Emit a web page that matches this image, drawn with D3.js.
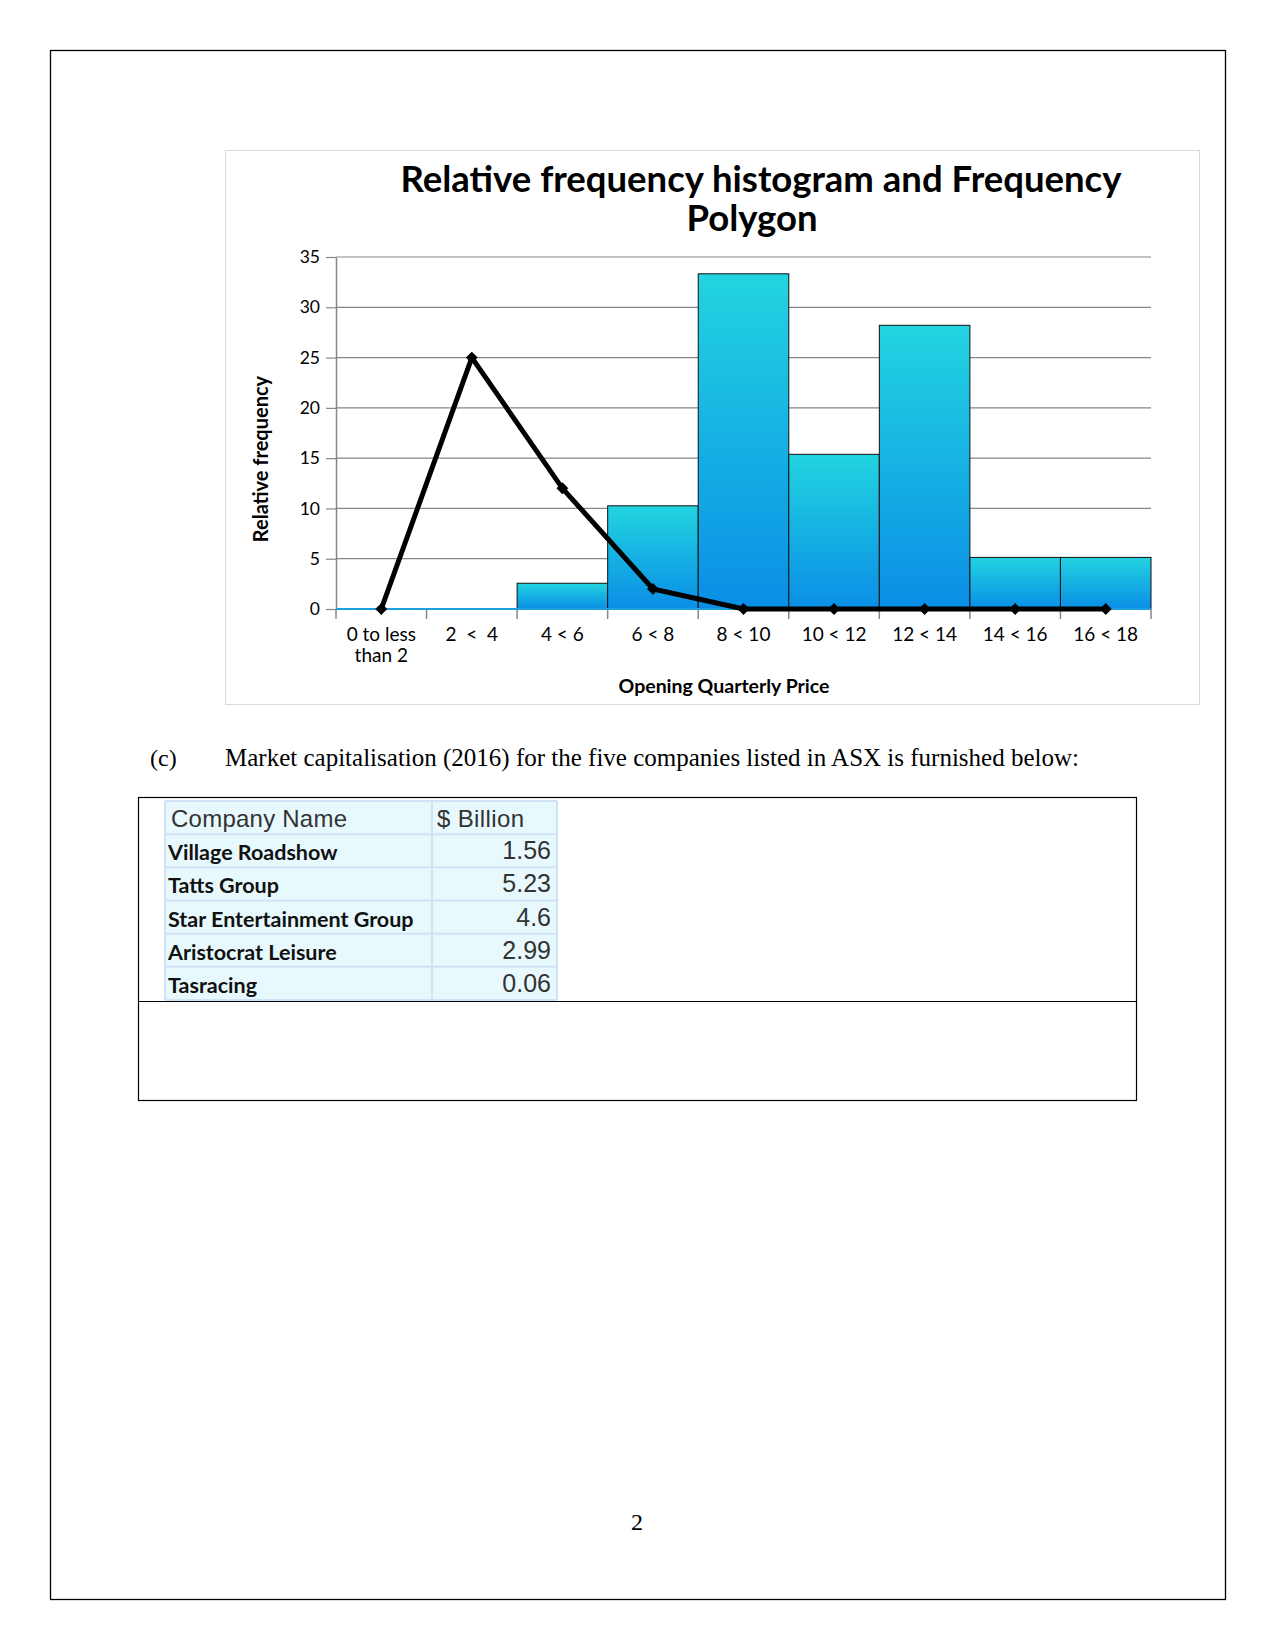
<!DOCTYPE html>
<html>
<head>
<meta charset="utf-8">
<script src="https://cdn.jsdelivr.net/npm/d3@7"></script>
<style>
  body { margin: 0; background: #fff; }
  svg { display: block; }
</style>
</head>
<body>
<div id="page"></div>
<script>
// histogram data (relative frequency, %)
const bins = ["0 to less|than 2", "2  <  4", "4 < 6", "6 < 8", "8 < 10", "10 < 12", "12 < 14", "14 < 16", "16 < 18"];
const relFreq = [0, 0, 2.56, 10.26, 33.33, 15.38, 28.21, 5.13, 5.13];
const polygon = [0, 25, 12, 2, 0, 0, 0, 0, 0];
const yTicks = [0, 5, 10, 15, 20, 25, 30, 35];

// table data
const companies = ["Village Roadshow", "Tatts Group", "Star Entertainment Group", "Aristocrat Leisure", "Tasracing"];
const billions = ["1.56", "5.23", "4.6", "2.99", "0.06"];

const svg = d3.select("#page").append("svg").attr("width", 1275).attr("height", 1650)

// page frame
svg.append("rect")
   .attr("x", 50.5).attr("y", 50.5).attr("width", 1175).attr("height", 1549)
   .attr("fill", "none").attr("stroke", "#000").attr("stroke-width", 1.3)

// chart frame
svg.append("rect")
   .attr("x", 225.5).attr("y", 150.5).attr("width", 974).attr("height", 554)
   .attr("fill", "#fff").attr("stroke", "#d9d9d9").attr("stroke-width", 1)

const margin = { left: 336, right: 1151, top: 257, bottom: 609 }

const x = d3.scaleBand().domain(bins).range([margin.left, margin.right]).padding(0)
const y = d3.scaleLinear().domain([0, 35]).range([margin.bottom, margin.top])

const defs = svg.append("defs")
const grad = defs.append("linearGradient").attr("id", "barGrad")
                 .attr("x1", 0).attr("y1", 0).attr("x2", 0).attr("y2", 1)
grad.append("stop").attr("offset", "0%").attr("stop-color", "#22d4e0")
grad.append("stop").attr("offset", "100%").attr("stop-color", "#0a8ee6")

// gridlines
svg.append("g")
   .selectAll("line")
   .data(yTicks.filter(d => d > 0))
   .enter()
   .append("line")
   .attr("x1", margin.left).attr("x2", margin.right)
   .attr("y1", d => y(d)).attr("y2", d => y(d))
   .attr("stroke", "#868686").attr("stroke-width", 1.2)

// bars
svg.append("g")
   .selectAll("rect")
   .data(bins)
   .enter()
   .append("rect")
   .attr("x", d => x(d))
   .attr("y", (d, i) => y(relFreq[i]))
   .attr("width", x.bandwidth())
   .attr("height", (d, i) => y(0) - y(relFreq[i]))
   .attr("fill", "url(#barGrad)")
   .attr("stroke", (d, i) => relFreq[i] > 0 ? "#111" : "none")
   .attr("stroke-width", 1)

// axes
const gy = svg.append("g")
              .attr("transform", `translate(${margin.left},0)`)
              .call(d3.axisLeft(y).tickValues(yTicks).tickSize(10).tickPadding(6).tickSizeOuter(0))
gy.select(".domain").attr("stroke", "#868686").attr("stroke-width", 1.5)
gy.selectAll(".tick line").attr("stroke", "#868686").attr("stroke-width", 1.2)
gy.selectAll("text").style("font-family", "Lato").style("font-size", "17.5px").attr("fill", "#000")

const gx = svg.append("g")
              .attr("transform", `translate(0,${margin.bottom})`)
gx.append("line")
  .attr("x1", margin.left).attr("x2", margin.right).attr("y1", 0).attr("y2", 0)
  .attr("stroke", "#1a9fe0").attr("stroke-width", 2)
gx.selectAll("line.tk")
  .data(bins.concat(["end"]))
  .enter()
  .append("line")
  .attr("class", "tk")
  .attr("x1", (d, i) => i < bins.length ? x(d) : margin.right)
  .attr("x2", (d, i) => i < bins.length ? x(d) : margin.right)
  .attr("y1", 0).attr("y2", 10)
  .attr("stroke", "#868686").attr("stroke-width", 1.5)

gx.selectAll("text.lbl")
  .data(bins)
  .enter()
  .append("text")
  .attr("class", "lbl")
  .attr("x", d => x(d) + x.bandwidth() / 2)
  .attr("y", 32)
  .attr("text-anchor", "middle")
  .style("font-family", "Lato").style("font-size", "19px")
  .each(function(d) {
      const lines = d.split("|")
      lines.forEach((l, j) => {
          d3.select(this).append("tspan")
            .attr("x", x(d) + x.bandwidth() / 2)
            .attr("dy", j === 0 ? 0 : 21)
            .attr("xml:space", "preserve")
            .style("white-space", "pre")
            .text(l)
      })
  })

// frequency polygon
const line = d3.line()
               .x((d, i) => x(bins[i]) + x.bandwidth() / 2)
               .y(d => y(d))

svg.append("path")
   .datum(polygon)
   .attr("d", line)
   .attr("fill", "none")
   .attr("stroke", "#000")
   .attr("stroke-width", 5)
   .attr("stroke-linejoin", "miter")

svg.append("g")
   .selectAll("path")
   .data(polygon)
   .enter()
   .append("path")
   .attr("d", d3.symbol().type(d3.symbolDiamond2).size(90))
   .attr("transform", (d, i) => `translate(${x(bins[i]) + x.bandwidth() / 2},${y(d)})`)
   .attr("fill", "#000")

// titles
const title = svg.append("text")
                 .attr("text-anchor", "middle")
                 .style("font-family", "Lato").style("font-weight", "bold").style("font-size", "36.5px")
title.append("tspan").attr("x", 761).attr("y", 192).text("Relative frequency histogram and Frequency")
title.append("tspan").attr("x", 752).attr("y", 231).text("Polygon")

svg.append("text")
   .attr("transform", "translate(268,459) rotate(-90)")
   .attr("text-anchor", "middle")
   .style("font-family", "Lato").style("font-weight", "bold").style("font-size", "20px")
   .text("Relative frequency")

svg.append("text")
   .attr("x", 724).attr("y", 693)
   .attr("text-anchor", "middle")
   .style("font-family", "Lato").style("font-weight", "bold").style("font-size", "19.5px")
   .text("Opening Quarterly Price")

// (c) paragraph
svg.append("text")
   .attr("x", 150).attr("y", 766)
   .style("font-family", "Liberation Serif").style("font-size", "24px")
   .text("(c)")
svg.append("text")
   .attr("x", 225).attr("y", 766)
   .style("font-family", "Liberation Serif").style("font-size", "25px")
   .attr("textLength", 854)
   .text("Market capitalisation (2016) for the five companies listed in ASX is furnished below:")

// answer box
svg.append("rect")
   .attr("x", 138.5).attr("y", 797.5).attr("width", 998).attr("height", 303)
   .attr("fill", "none").attr("stroke", "#000").attr("stroke-width", 1.2)
svg.append("line")
   .attr("x1", 138.5).attr("x2", 1136.5).attr("y1", 1001.5).attr("y2", 1001.5)
   .attr("stroke", "#000").attr("stroke-width", 1.2)

// table
const rowLabels = ["Company Name"].concat(companies)
const colX = d3.scaleOrdinal().domain(["name", "value"]).range([165, 432])
const rowY = d3.scaleBand().domain(d3.range(rowLabels.length)).range([801, 1000])
const tableRight = 557

const tbl = svg.append("g")
tbl.append("rect")
   .attr("x", 165).attr("y", 801).attr("width", tableRight - 165).attr("height", 199)
   .attr("fill", "#e8f9fd")

tbl.selectAll("line.row")
   .data(d3.range(rowLabels.length + 1))
   .enter()
   .append("line")
   .attr("class", "row")
   .attr("x1", 165).attr("x2", tableRight)
   .attr("y1", d => d < rowLabels.length ? rowY(d) : 1000)
   .attr("y2", d => d < rowLabels.length ? rowY(d) : 1000)
   .attr("stroke", "#cfe3f7").attr("stroke-width", 2)
tbl.selectAll("line.col")
   .data([165, 432, tableRight])
   .enter()
   .append("line")
   .attr("class", "col")
   .attr("x1", d => d).attr("x2", d => d)
   .attr("y1", 801).attr("y2", 1000)
   .attr("stroke", "#cfe3f7").attr("stroke-width", 2)

tbl.append("text")
   .attr("x", colX("name") + 6).attr("y", rowY(0) + 26)
   .style("font-family", "Liberation Sans").style("font-size", "24px").attr("fill", "#333")
   .attr("textLength", 176)
   .text("Company Name")
tbl.append("text")
   .attr("x", colX("value") + 5).attr("y", rowY(0) + 26)
   .style("font-family", "Liberation Sans").style("font-size", "24px").attr("fill", "#333")
   .attr("textLength", 87)
   .text("$ Billion")

tbl.selectAll("text.name")
   .data(companies)
   .enter()
   .append("text")
   .attr("class", "name")
   .attr("x", colX("name") + 3)
   .attr("y", (d, i) => rowY(i + 1) + 26)
   .style("font-family", "Lato").style("font-weight", "bold").style("font-size", "21.5px").attr("fill", "#111")
   .text(d => d)

tbl.selectAll("text.val")
   .data(billions)
   .enter()
   .append("text")
   .attr("class", "val")
   .attr("x", tableRight - 6)
   .attr("y", (d, i) => rowY(i + 1) + 25)
   .attr("text-anchor", "end")
   .style("font-family", "Liberation Sans").style("font-size", "25px").attr("fill", "#333")
   .text(d => d)

// page number
svg.append("text")
   .attr("x", 637).attr("y", 1530)
   .attr("text-anchor", "middle")
   .style("font-family", "Liberation Serif").style("font-size", "24px")
   .text("2")
</script>
</body>
</html>
